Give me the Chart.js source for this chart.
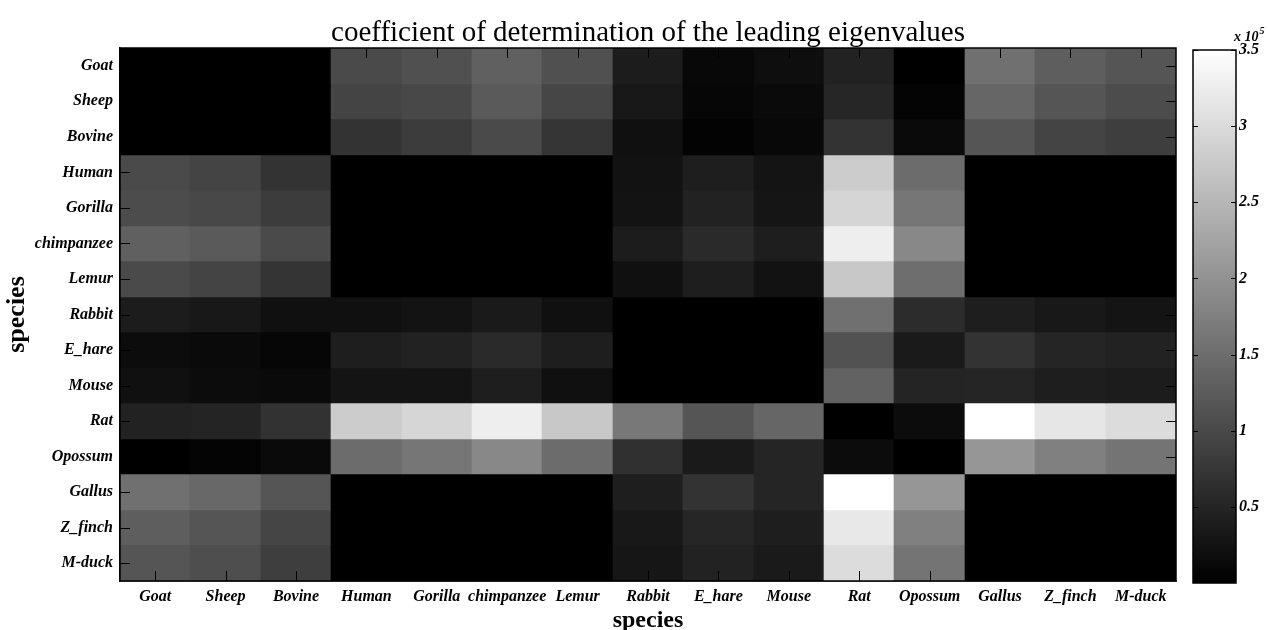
<!DOCTYPE html>
<html>
<head>
<meta charset="utf-8">
<script src="https://cdn.jsdelivr.net/npm/chart.js@4.4.0/dist/chart.umd.min.js"></script>
<style>
  html, body { margin: 0; padding: 0; background: #fff; overflow: hidden; width: 1268px; height: 630px; }
  #main { position: absolute; left: 0; top: 0; }
  #bar { position: absolute; left: 1150px; top: 0; }
</style>
</head>
<body>
<canvas id="main" width="1268" height="630"></canvas>
<canvas id="bar" width="118" height="630"></canvas>
<script>
// species along both axes (rows top to bottom, columns left to right)
const rowLabels = ["Goat", "Sheep", "Bovine", "Human", "Gorilla", "chimpanzee", "Lemur", "Rabbit",
  "E_hare", "Mouse", "Rat", "Opossum", "Gallus", "Z_finch", "M-duck"];
const colLabels = rowLabels.slice();
const chartTitle = "coefficient of determination of the leading eigenvalues";

// coefficient values, in units of 10^5, read from the grey levels
const goat    = [0, 0, 0, 1.02, 1.10, 1.32, 1.10, 0.38, 0.11, 0.19, 0.47, 0, 1.54, 1.29, 1.17];
const sheep   = [0, 0, 0, 0.93, 0.99, 1.24, 0.96, 0.33, 0.08, 0.14, 0.52, 0.05, 1.40, 1.17, 1.04];
const bovine  = [0, 0, 0, 0.70, 0.82, 1.02, 0.73, 0.22, 0.04, 0.11, 0.70, 0.14, 1.17, 0.93, 0.85];
const human   = [1.02, 0.93, 0.70, 0, 0, 0, 0, 0.25, 0.41, 0.27, 2.80, 1.48, 0, 0, 0];
const gorilla = [1.04, 0.99, 0.82, 0, 0, 0, 0, 0.26, 0.47, 0.29, 2.92, 1.62, 0, 0, 0];
const chimp   = [1.32, 1.24, 1.02, 0, 0, 0, 0, 0.38, 0.58, 0.41, 3.27, 1.87, 0, 0, 0];
const lemur   = [1.02, 0.93, 0.71, 0, 0, 0, 0, 0.22, 0.41, 0.25, 2.75, 1.51, 0, 0, 0];
const rabbit  = [0.38, 0.33, 0.22, 0.22, 0.26, 0.36, 0.22, 0, 0, 0, 1.54, 0.60, 0.41, 0.33, 0.27];
const ehare   = [0.16, 0.14, 0.08, 0.41, 0.47, 0.58, 0.41, 0, 0, 0, 1.13, 0.36, 0.70, 0.51, 0.47];
const mouse   = [0.22, 0.16, 0.14, 0.27, 0.27, 0.41, 0.22, 0, 0, 0, 1.35, 0.49, 0.51, 0.41, 0.38];
const rat     = [0.47, 0.49, 0.69, 2.80, 2.94, 3.27, 2.75, 1.65, 1.17, 1.40, 0, 0.16, 3.50, 3.16, 3.02];
const opossum = [0, 0.05, 0.14, 1.48, 1.62, 1.87, 1.48, 0.66, 0.36, 0.51, 0.16, 0, 2.06, 1.76, 1.59];
const gallus  = [1.54, 1.43, 1.17, 0, 0, 0, 0, 0.41, 0.70, 0.51, 3.50, 2.06, 0, 0, 0];
const zfinch  = [1.29, 1.17, 0.95, 0, 0, 0, 0, 0.33, 0.52, 0.41, 3.18, 1.76, 0, 0, 0];
const mduck   = [1.17, 1.07, 0.85, 0, 0, 0, 0, 0.30, 0.47, 0.36, 3.02, 1.59, 0, 0, 0];
const matrix = [goat, sheep, bovine, human, gorilla, chimp, lemur, rabbit, ehare, mouse, rat, opossum, gallus, zfinch, mduck];

// colour bar
const cMin = 0;
const cMax = 3.5;
const barTicks = [0.5, 1, 1.5, 2, 2.5, 3, 3.5];

const serif = "'Liberation Serif', 'Times New Roman', serif";

function gray(v) {
  const g = Math.round(Math.max(0, Math.min(1, (v - cMin) / (cMax - cMin))) * 255);
  return `rgb(${g},${g},${g})`;
}

// snap cell edges to whole pixels so no white seams show
const snapCells = {
  id: "snapCells",
  beforeDatasetsDraw(chart) {
    chart.data.datasets.forEach((ds, i) => {
      chart.getDatasetMeta(i).data.forEach(el => {
        const l = Math.round(el.x - el.width / 2), r = Math.round(el.x + el.width / 2);
        el.x = (l + r) / 2;
        el.width = r - l;
        el.y = Math.round(el.y);
        el.base = Math.round(el.base);
      });
    });
  }
};

// box, inward ticks (matlab style) and the title centred on the axes
const frame = {
  id: "frame",
  afterDatasetsDraw(chart) {
    const { ctx, chartArea: a, scales } = chart;
    const len = 10;
    ctx.save();
    ctx.strokeStyle = "#000";
    ctx.lineWidth = 1;
    ctx.beginPath();
    scales.x.ticks.forEach((t, i) => {
      const x = Math.round(scales.x.getPixelForTick(i)) + 0.5;
      ctx.moveTo(x, a.bottom); ctx.lineTo(x, a.bottom - len);
      ctx.moveTo(x, a.top); ctx.lineTo(x, a.top + len);
    });
    scales.y.ticks.forEach((t, i) => {
      const y = Math.round(scales.y.getPixelForTick(i)) + 0.5;
      ctx.moveTo(a.left, y); ctx.lineTo(a.left + len, y);
      ctx.moveTo(a.right, y); ctx.lineTo(a.right - len, y);
    });
    ctx.stroke();
    ctx.lineWidth = 1.5;
    ctx.strokeRect(a.left, a.top, a.right - a.left, a.bottom - a.top);
    ctx.fillStyle = "#000";
    ctx.font = `29px ${serif}`;
    ctx.textAlign = "center";
    ctx.textBaseline = "alphabetic";
    ctx.fillText(chartTitle, (a.left + a.right) / 2, a.top - 7);
    ctx.restore();
  }
};

new Chart(document.getElementById("main"), {
  type: "bar",
  data: {
    labels: colLabels,
    datasets: rowLabels.map((name, r) => ({
      label: name,
      data: colLabels.map(() => [r, r + 1]),
      backgroundColor: matrix[r].map(gray),
      borderWidth: 0,
      barPercentage: 1,
      categoryPercentage: 1,
      grouped: false
    }))
  },
  options: {
    responsive: false,
    animation: false,
    layout: { padding: { left: 0, right: 92, top: 48, bottom: 0 } },
    plugins: {
      legend: { display: false },
      tooltip: { enabled: false },
      title: { display: false }
    },
    scales: {
      x: {
        type: "category",
        offset: true,
        grid: { display: false, drawTicks: false },
        border: { display: true, color: "#000", width: 1.5 },
        ticks: {
          color: "#000",
          autoSkip: false,
          maxRotation: 0,
          padding: 6,
          font: { family: serif, size: 16, weight: "bold", style: "italic" }
        },
        title: {
          display: true,
          text: "species",
          color: "#000",
          font: { family: serif, size: 24, weight: "bold", lineHeight: 0.8 },
          padding: 0
        },
        afterFit(scale) { scale.height = 49; }
      },
      y: {
        type: "linear",
        reverse: true,
        min: 0,
        max: 15,
        grid: { display: false, drawTicks: false },
        border: { display: true, color: "#000", width: 1.5 },
        afterBuildTicks(scale) {
          scale.ticks = rowLabels.map((n, i) => ({ value: i + 0.5 }));
        },
        ticks: {
          color: "#000",
          padding: 7,
          font: { family: serif, size: 16, weight: "bold", style: "italic" },
          callback: (v, i) => rowLabels[i]
        },
        title: {
          display: true,
          text: "species",
          color: "#000",
          font: { family: serif, size: 26, weight: "bold", lineHeight: 1 },
          padding: { top: 4, bottom: 0 }
        },
        afterFit(scale) { scale.width = 120; }
      }
    }
  },
  plugins: [snapCells, frame]
});

// grey colour bar with its own axis
const gradientFill = {
  id: "gradientFill",
  beforeDatasetsDraw(chart) {
    const { ctx, chartArea: a, scales } = chart;
    const y = scales.y;
    const grad = ctx.createLinearGradient(0, y.getPixelForValue(cMin), 0, y.getPixelForValue(cMax));
    grad.addColorStop(0, gray(cMin));
    grad.addColorStop(1, gray(cMax));
    ctx.save();
    ctx.fillStyle = grad;
    ctx.fillRect(a.left, a.top, a.right - a.left, a.bottom - a.top);
    ctx.strokeStyle = "#000";
    ctx.lineWidth = 1;
    ctx.beginPath();
    y.ticks.forEach((t, i) => {
      const py = Math.round(y.getPixelForTick(i)) + 0.5;
      ctx.moveTo(a.left, py); ctx.lineTo(a.left + 5, py);
      ctx.moveTo(a.right, py); ctx.lineTo(a.right - 5, py);
    });
    ctx.stroke();
    ctx.lineWidth = 1.5;
    ctx.strokeRect(a.left, a.top, a.right - a.left, a.bottom - a.top);
    // exponent note above the bar
    ctx.fillStyle = "#000";
    ctx.textBaseline = "alphabetic";
    ctx.textAlign = "left";
    ctx.font = `italic bold 14px ${serif}`;
    ctx.fillText("x 10", a.right - 2, a.top - 9);
    const w = ctx.measureText("x 10").width;
    ctx.font = `italic bold 10px ${serif}`;
    ctx.fillText("5", a.right - 1 + w, a.top - 16);
    ctx.restore();
  }
};

new Chart(document.getElementById("bar"), {
  type: "scatter",
  data: { datasets: [{ data: [] }] },
  options: {
    responsive: false,
    animation: false,
    layout: { padding: { left: 43, right: 0, top: 50, bottom: 47 } },
    plugins: { legend: { display: false }, tooltip: { enabled: false } },
    scales: {
      x: { display: false, min: 0, max: 1 },
      y: {
        position: "right",
        min: cMin,
        max: cMax,
        grid: { display: false, drawTicks: false },
        border: { display: false },
        afterBuildTicks(scale) {
          scale.ticks = barTicks.map(v => ({ value: v }));
        },
        ticks: {
          color: "#000",
          padding: 3,
          font: { family: serif, size: 16, weight: "bold", style: "italic" },
          callback: v => String(v)
        },
        afterFit(scale) { scale.width = 32; }
      }
    }
  },
  plugins: [gradientFill]
});
</script>
</body>
</html>
